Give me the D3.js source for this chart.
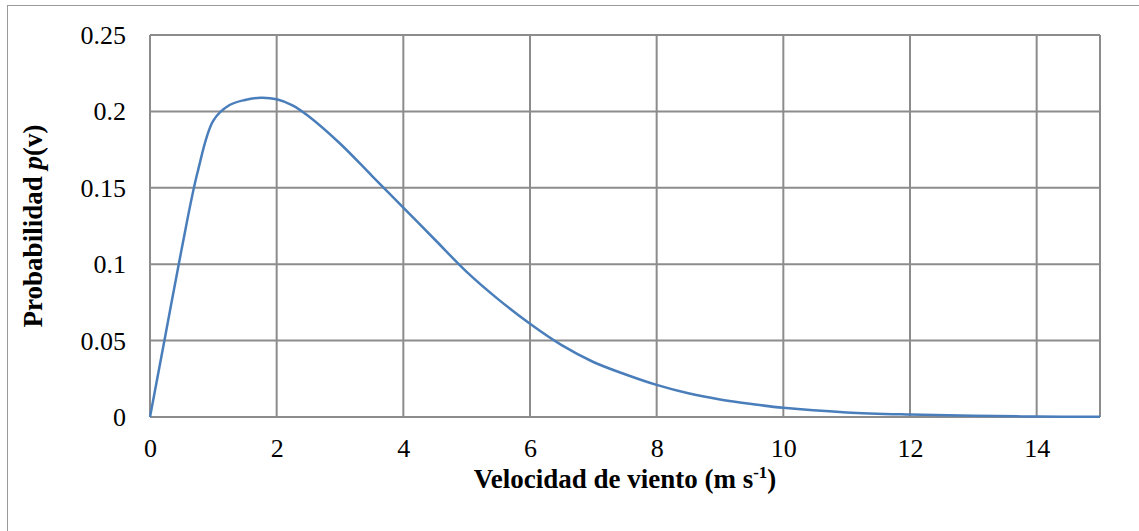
<!DOCTYPE html>
<html>
<head>
<meta charset="utf-8">
<script src="https://cdn.jsdelivr.net/npm/d3@7"></script>
<style>
  body { margin: 0; background: #fff; }
  svg { display: block; }
</style>
</head>
<body>
<div id="chart"></div>
<script>
// wind speed (m/s) and probability p(v)
var speeds = [0, 0.25, 0.5, 0.75, 1.0, 1.25, 1.5, 1.75, 2.0, 2.25, 2.5, 3.0, 3.5, 4.0, 4.5, 5.0, 5.5, 6.0, 6.5, 7.0, 7.5, 8.0, 8.5, 9.0, 9.5, 10, 11, 12, 13, 14, 15];
var probs = [0, 0.055, 0.110, 0.160, 0.194, 0.204, 0.2075, 0.209, 0.208, 0.204, 0.197, 0.179, 0.158, 0.137, 0.116, 0.095, 0.077, 0.061, 0.047, 0.036, 0.028, 0.021, 0.0155, 0.0115, 0.0085, 0.006, 0.003, 0.0016, 0.0008, 0.0003, 0.0001];
var xTicks = [0, 2, 4, 6, 8, 10, 12, 14];
var yTicks = [0, 0.05, 0.1, 0.15, 0.2, 0.25];

var width = 1139, height = 531;
var plotLeft = 150, plotRight = 1100, plotTop = 35, plotBottom = 417;
var gridColor = "#8c8c8c";
var font = "'Liberation Serif', 'Times New Roman', serif";

var svg = d3.select("#chart")
  .append("svg")
  .attr("width", width)
  .attr("height", height);

// outer chart frame (runs off the right and bottom edges)
svg.append("rect")
  .attr("x", 7.5)
  .attr("y", 5.5)
  .attr("width", width + 10)
  .attr("height", height + 10)
  .style("fill", "white")
  .style("stroke", "#9a9a9a")
  .style("stroke-width", 1);

var x = d3.scaleLinear().domain([0, 15]).range([plotLeft, plotRight]);
var y = d3.scaleLinear().domain([0, 0.25]).range([plotBottom, plotTop]);

// vertical grid
svg.append("g")
  .selectAll("line")
  .data(xTicks.concat([15]))
  .join("line")
  .attr("x1", function(d) { return x(d); })
  .attr("x2", function(d) { return x(d); })
  .attr("y1", plotTop)
  .attr("y2", plotBottom)
  .style("stroke", gridColor)
  .style("stroke-width", 2);

// horizontal grid
svg.append("g")
  .selectAll("line")
  .data(yTicks)
  .join("line")
  .attr("x1", plotLeft)
  .attr("x2", plotRight)
  .attr("y1", function(d) { return y(d); })
  .attr("y2", function(d) { return y(d); })
  .style("stroke", gridColor)
  .style("stroke-width", 2);

// x tick labels
var xAxis = d3.axisBottom(x).tickValues(xTicks).tickSize(0).tickPadding(0)
  .tickFormat(d3.format("d"));
var gx = svg.append("g")
  .attr("transform", "translate(0," + plotBottom + ")")
  .call(xAxis);
gx.select(".domain").remove();
gx.selectAll("text")
  .attr("y", 40)
  .attr("dy", null)
  .style("font-family", font)
  .style("font-size", "26px")
  .style("fill", "black");

// y tick labels
var yAxis = d3.axisLeft(y).tickValues(yTicks).tickSize(0).tickPadding(0)
  .tickFormat(function(d) { return d3.format("~g")(d); });
var gy = svg.append("g")
  .attr("transform", "translate(126,0)")
  .call(yAxis);
gy.select(".domain").remove();
gy.selectAll("text")
  .attr("x", 0)
  .attr("dy", "0.33em")
  .style("font-family", font)
  .style("font-size", "26px")
  .style("fill", "black");

// the curve (smoothed like the spreadsheet line)
var line = d3.line()
  .x(function(d, i) { return x(speeds[i]); })
  .y(function(d) { return y(d); })
  .curve(d3.curveCatmullRom.alpha(0.5));

svg.append("path")
  .datum(probs)
  .attr("d", line)
  .style("fill", "none")
  .style("stroke", "#4a7ebb")
  .style("stroke-width", 2.5);

// x axis title
var xTitle = svg.append("text")
  .attr("x", (plotLeft + plotRight) / 2)
  .attr("y", 488)
  .style("font-family", font)
  .style("font-size", "27px")
  .style("font-weight", "bold")
  .style("text-anchor", "middle")
  .style("fill", "black");
xTitle.append("tspan").text("Velocidad de viento (m s");
xTitle.append("tspan").attr("dy", -10).style("font-size", "17px").text("-1");
xTitle.append("tspan").attr("dy", 10).text(")");

// y axis title
var yTitle = svg.append("text")
  .attr("transform", "translate(42," + ((plotTop + plotBottom) / 2) + ") rotate(-90)")
  .style("font-family", font)
  .style("font-size", "27px")
  .style("font-weight", "bold")
  .style("text-anchor", "middle")
  .style("fill", "black");
yTitle.append("tspan").text("Probabilidad ");
yTitle.append("tspan").style("font-style", "italic").text("p");
yTitle.append("tspan").text("(v)");
</script>
</body>
</html>
